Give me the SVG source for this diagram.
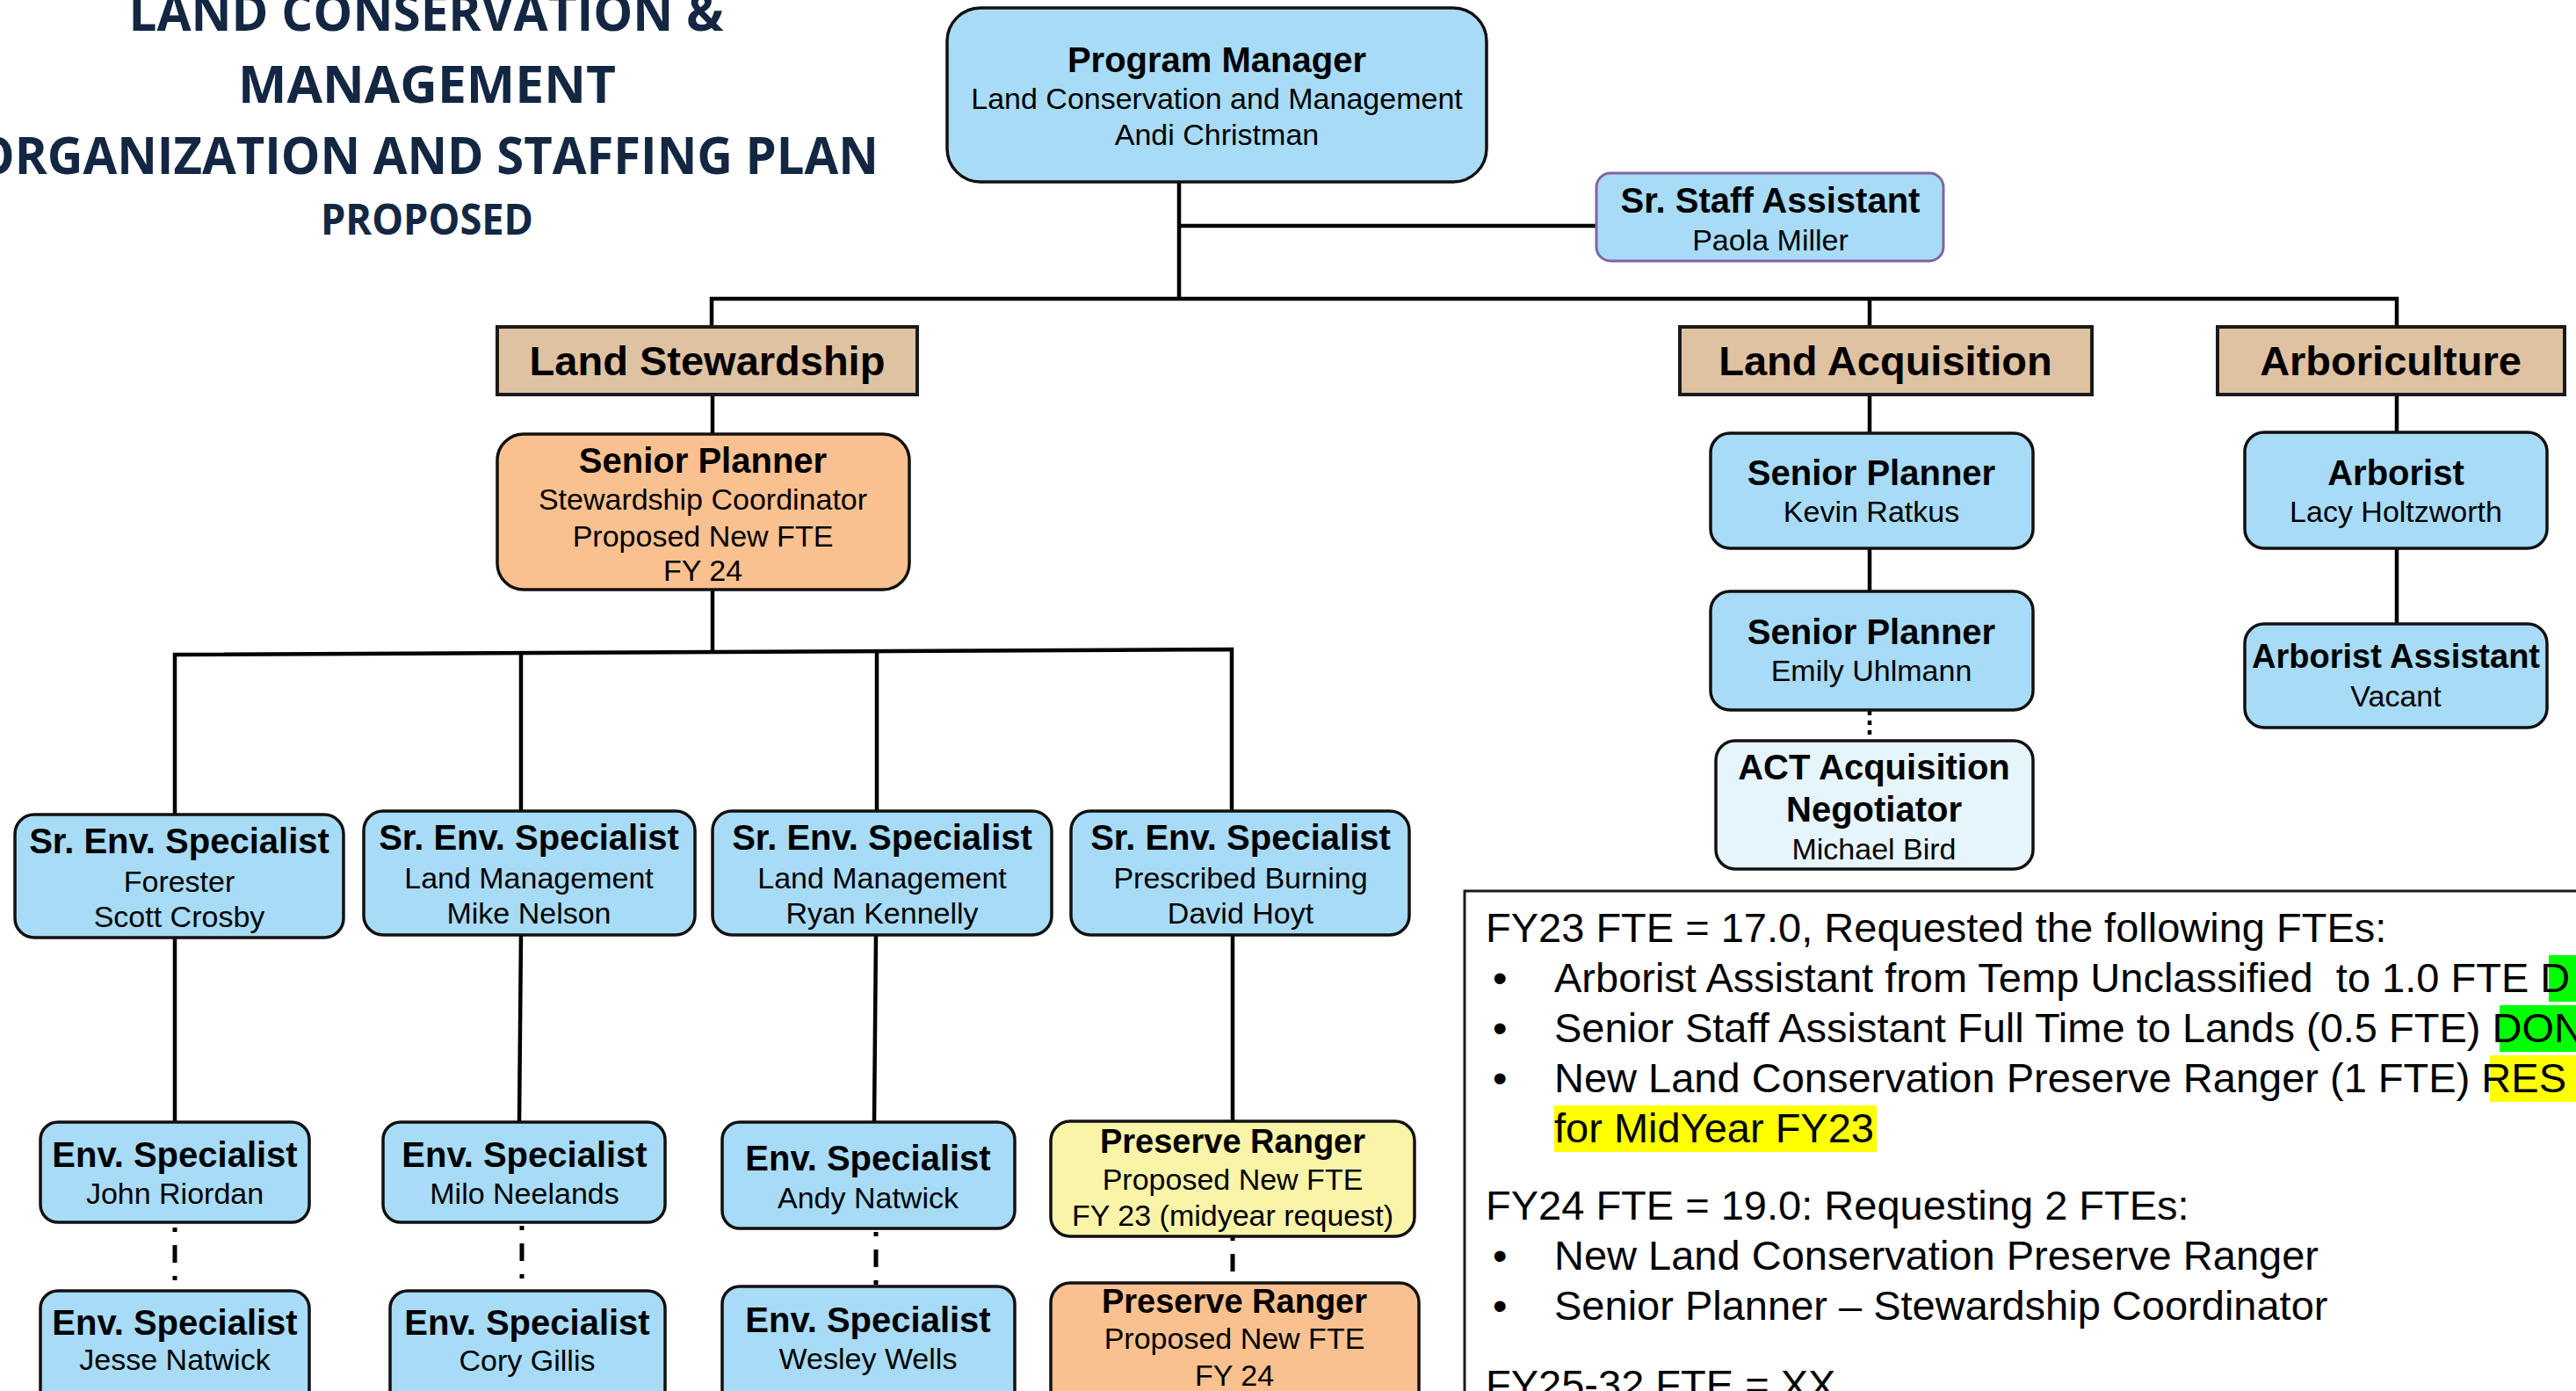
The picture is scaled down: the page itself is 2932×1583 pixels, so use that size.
<svg xmlns="http://www.w3.org/2000/svg" width="2932" height="1583" viewBox="0 0 2932 1583">
<style>
.bg{fill:#ffffff}
.box{stroke:#111111;stroke-width:3.5}
.blue{fill:#A8DBF5}
.orange{fill:#F9C18F}
.yellow{fill:#FAF4A9}
.pale{fill:#E6F4FC}
.tan{fill:#DFC2A2;stroke:#1a1a1a;stroke-width:4}
.t{font-family:"Liberation Sans",Arial,sans-serif;text-anchor:middle;fill:#000000}
.b{font-weight:bold;font-size:40px}
.b38{font-weight:bold;font-size:38px}
.r{font-size:34px}
.h{font-weight:bold;font-size:47px}
.title{font-family:"Open Sans","Liberation Sans",sans-serif;font-weight:bold;fill:#132743;text-anchor:middle}
.conn{stroke:#000000;stroke-width:4.5;fill:none}
.dd{stroke:#000000;stroke-width:5;fill:none;stroke-dasharray:5 15 20 15}
.dot{stroke:#000000;stroke-width:4.5;fill:none;stroke-dasharray:5 6}
.note{font-family:"Liberation Sans",Arial,sans-serif;font-size:47px;fill:#000000}
</style>
<rect class="bg" x="0" y="0" width="2932" height="1583"/>

<g id="title">
<text class="title" x="485" y="35" font-size="59" textLength="677" lengthAdjust="spacingAndGlyphs">LAND CONSERVATION &amp;</text>
<text class="title" x="486" y="117" font-size="59" textLength="430" lengthAdjust="spacingAndGlyphs">MANAGEMENT</text>
<text class="title" x="486" y="198" font-size="59" textLength="1028" lengthAdjust="spacingAndGlyphs">ORGANIZATION AND STAFFING PLAN</text>
<text class="title" x="486" y="267" font-size="48" textLength="242" lengthAdjust="spacingAndGlyphs">PROPOSED</text>
</g>

<g id="connectors">
<path class="conn" d="M1342 207 V340"/>
<path class="conn" d="M1342 257 H1817"/>
<path class="conn" d="M810 372 V340 H2728 V372" stroke-width="5.5"/>
<path class="conn" d="M2128 340 V372"/>
<path class="conn" d="M811 449 V494"/>
<path class="conn" d="M811 671 V742"/>
<path class="conn" d="M199 927 V745 L1402 739 V923"/>
<path class="conn" d="M593 744 V923"/>
<path class="conn" d="M998 741 V923"/>
<path class="conn" d="M199 1067 V1277"/>
<path class="conn" d="M593 1064 L591 1277"/>
<path class="conn" d="M997 1064 L995 1277"/>
<path class="conn" d="M1403 1064 V1276"/>
<path class="dd" d="M199 1397 V1469"/>
<path class="dd" d="M594 1393 V1469" stroke-dashoffset="-2"/>
<path class="dd" d="M997 1402 V1464"/>
<path class="dd" d="M1403 1407 V1460" stroke-dasharray="20 14 5 20"/>
<path class="conn" d="M2128 449 V493"/>
<path class="conn" d="M2128 624 V673"/>
<path class="dot" d="M2128 809 V843"/>
<path class="conn" d="M2728 449 V492"/>
<path class="conn" d="M2728 624 V710"/>
</g>

<g id="program-manager">
<rect class="box blue" x="1078" y="9" width="614" height="198" rx="38" stroke-width="5"/>
<text class="t b" x="1385" y="82">Program Manager</text>
<text class="t r" x="1385" y="124">Land Conservation and Management</text>
<text class="t r" x="1385" y="165">Andi Christman</text>
</g>

<g id="sr-staff-assistant">
<rect x="1817" y="197" width="395" height="100" rx="16" fill="#A8DBF5" stroke="#8064A2" stroke-width="3"/>
<text class="t b" x="2015" y="242">Sr. Staff Assistant</text>
<text class="t r" x="2015" y="285">Paola Miller</text>
</g>

<g id="land-stewardship">
<rect class="tan" x="566" y="372" width="478" height="77"/>
<text class="t h" x="805" y="427">Land Stewardship</text>
</g>

<g id="land-acquisition">
<rect class="tan" x="1912" y="372" width="469" height="77"/>
<text class="t h" x="2146" y="427">Land Acquisition</text>
</g>

<g id="arboriculture">
<rect class="tan" x="2524" y="372" width="395" height="77"/>
<text class="t h" x="2721" y="427">Arboriculture</text>
</g>

<g id="senior-planner-stewardship">
<rect class="box orange" x="566" y="494" width="469" height="177" rx="30"/>
<text class="t b" x="800" y="538">Senior Planner</text>
<text class="t r" x="800" y="580">Stewardship Coordinator</text>
<text class="t r" x="800" y="622">Proposed New FTE</text>
<text class="t r" x="800" y="661">FY 24</text>
</g>

<g id="sr-env-forester">
<rect class="box blue" x="17" y="927" width="374" height="140" rx="22"/>
<text class="t b" x="204" y="971">Sr. Env. Specialist</text>
<text class="t r" x="204" y="1015">Forester</text>
<text class="t r" x="204" y="1055">Scott Crosby</text>
</g>

<g id="sr-env-nelson">
<rect class="box blue" x="414" y="923" width="377" height="141" rx="22"/>
<text class="t b" x="602" y="967">Sr. Env. Specialist</text>
<text class="t r" x="602" y="1011">Land Management</text>
<text class="t r" x="602" y="1051">Mike Nelson</text>
</g>

<g id="sr-env-kennelly">
<rect class="box blue" x="811" y="923" width="386" height="141" rx="22"/>
<text class="t b" x="1004" y="967">Sr. Env. Specialist</text>
<text class="t r" x="1004" y="1011">Land Management</text>
<text class="t r" x="1004" y="1051">Ryan Kennelly</text>
</g>

<g id="sr-env-hoyt">
<rect class="box blue" x="1219" y="923" width="385" height="141" rx="22"/>
<text class="t b" x="1412" y="967">Sr. Env. Specialist</text>
<text class="t r" x="1412" y="1011">Prescribed Burning</text>
<text class="t r" x="1412" y="1051">David Hoyt</text>
</g>

<g id="env-riordan">
<rect class="box blue" x="46" y="1277" width="306" height="114" rx="20"/>
<text class="t b" x="199" y="1328">Env. Specialist</text>
<text class="t r" x="199" y="1370">John Riordan</text>
</g>

<g id="env-neelands">
<rect class="box blue" x="436" y="1277" width="321" height="114" rx="20"/>
<text class="t b" x="597" y="1328">Env. Specialist</text>
<text class="t r" x="597" y="1370">Milo Neelands</text>
</g>

<g id="env-andy-natwick">
<rect class="box blue" x="822" y="1277" width="333" height="121" rx="20"/>
<text class="t b" x="988" y="1332">Env. Specialist</text>
<text class="t r" x="988" y="1375">Andy Natwick</text>
</g>

<g id="preserve-ranger-fy23">
<rect class="box yellow" x="1196" y="1276" width="414" height="131" rx="22"/>
<text class="t b38" x="1403" y="1312">Preserve Ranger</text>
<text class="t r" x="1403" y="1354">Proposed New FTE</text>
<text class="t r" x="1403" y="1395">FY 23 (midyear request)</text>
</g>

<g id="env-jesse-natwick">
<rect class="box blue" x="46" y="1469" width="306" height="140" rx="20"/>
<text class="t b" x="199" y="1519">Env. Specialist</text>
<text class="t r" x="199" y="1559">Jesse Natwick</text>
</g>

<g id="env-gillis">
<rect class="box blue" x="444" y="1469" width="313" height="140" rx="20"/>
<text class="t b" x="600" y="1519">Env. Specialist</text>
<text class="t r" x="600" y="1560">Cory Gillis</text>
</g>

<g id="env-wells">
<rect class="box blue" x="822" y="1464" width="333" height="140" rx="20"/>
<text class="t b" x="988" y="1516">Env. Specialist</text>
<text class="t r" x="988" y="1558">Wesley Wells</text>
</g>

<g id="preserve-ranger-fy24">
<rect class="box orange" x="1196" y="1460" width="419" height="150" rx="22"/>
<text class="t b38" x="1405" y="1494">Preserve Ranger</text>
<text class="t r" x="1405" y="1535">Proposed New FTE</text>
<text class="t r" x="1405" y="1577">FY 24</text>
</g>

<g id="senior-planner-ratkus">
<rect class="box blue" x="1947" y="493" width="367" height="131" rx="22"/>
<text class="t b" x="2130" y="552">Senior Planner</text>
<text class="t r" x="2130" y="594">Kevin Ratkus</text>
</g>

<g id="senior-planner-uhlmann">
<rect class="box blue" x="1947" y="673" width="367" height="135" rx="22"/>
<text class="t b" x="2130" y="733">Senior Planner</text>
<text class="t r" x="2130" y="775">Emily Uhlmann</text>
</g>

<g id="act-negotiator">
<rect class="box pale" x="1953" y="843" width="361" height="146" rx="22"/>
<text class="t b" x="2133" y="887">ACT Acquisition</text>
<text class="t b" x="2133" y="935">Negotiator</text>
<text class="t r" x="2133" y="978">Michael Bird</text>
</g>

<g id="arborist">
<rect class="box blue" x="2555" y="492" width="344" height="132" rx="22"/>
<text class="t b" x="2727" y="552">Arborist</text>
<text class="t r" x="2727" y="594">Lacy Holtzworth</text>
</g>

<g id="arborist-assistant">
<rect class="box blue" x="2555" y="710" width="344" height="118" rx="22"/>
<text class="t b38" x="2727" y="760">Arborist Assistant</text>
<text class="t r" x="2727" y="804">Vacant</text>
</g>

<g id="fte-notes">
<path d="M1667 1583 V1014 H2932" fill="none" stroke="#1a1a1a" stroke-width="3"/>
<rect x="2901" y="1087" width="31" height="53" fill="#00FF00"/>
<rect x="2845" y="1144" width="87" height="53" fill="#00FF00"/>
<rect x="2834" y="1201" width="98" height="53" fill="#FFFF00"/>
<rect x="1769" y="1258" width="367" height="53" fill="#FFFF00"/>
<text class="note" x="1691" y="1072">FY23 FTE = 17.0, Requested the following FTEs:</text>
<text class="note" x="1699" y="1129">•</text>
<text class="note" x="1769" y="1129" xml:space="preserve">Arborist Assistant from Temp Unclassified  to 1.0 FTE D</text>
<text class="note" x="1699" y="1186">•</text>
<text class="note" x="1769" y="1186">Senior Staff Assistant Full Time to Lands (0.5 FTE) DON</text>
<text class="note" x="1699" y="1243">•</text>
<text class="note" x="1769" y="1243">New Land Conservation Preserve Ranger (1 FTE) RES</text>
<text class="note" x="1769" y="1300">for MidYear FY23</text>
<text class="note" x="1691" y="1388">FY24 FTE = 19.0: Requesting 2 FTEs:</text>
<text class="note" x="1699" y="1445">•</text>
<text class="note" x="1769" y="1445">New Land Conservation Preserve Ranger</text>
<text class="note" x="1699" y="1502">•</text>
<text class="note" x="1769" y="1502">Senior Planner – Stewardship Coordinator</text>
<text class="note" x="1691" y="1592">FY25-32 FTE = XX</text>
</g>
</svg>
